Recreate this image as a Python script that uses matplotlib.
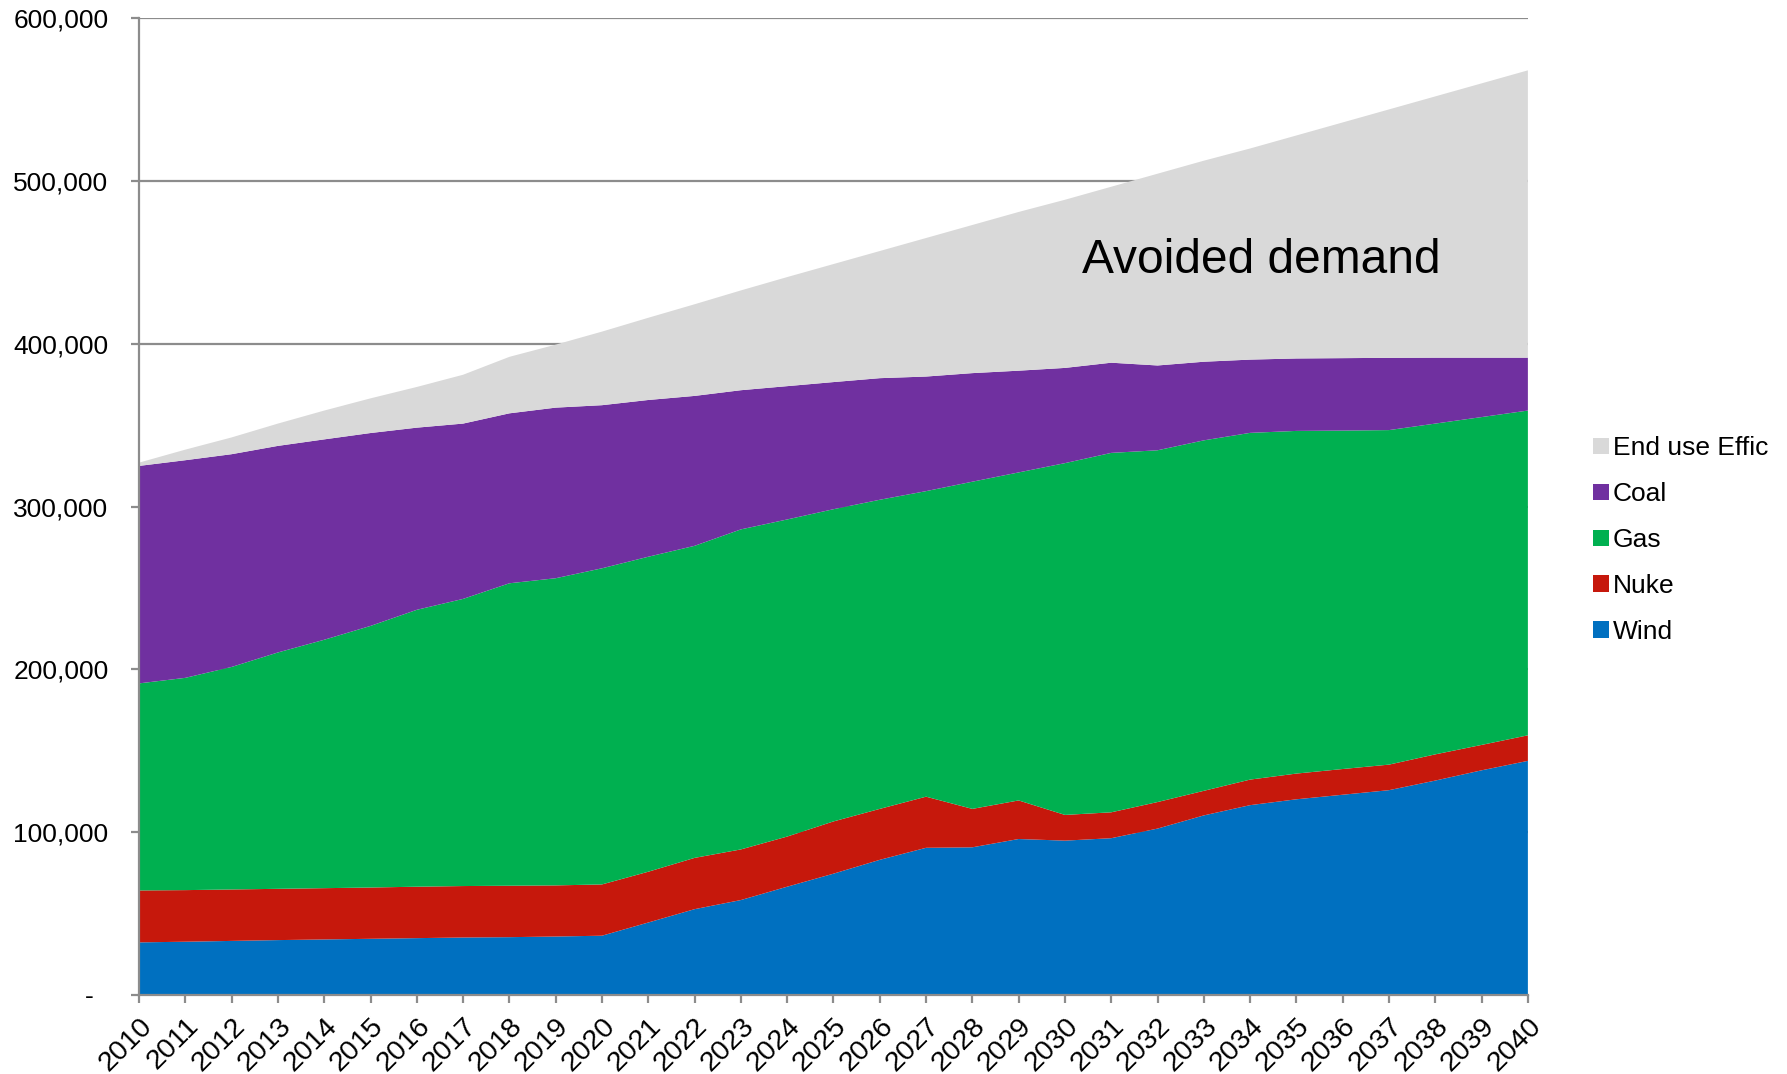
import matplotlib
matplotlib.use("Agg")
import matplotlib.pyplot as plt
from matplotlib.patches import Patch
from matplotlib.ticker import FuncFormatter
import numpy as np

years = list(range(2010, 2041))

wind = [32300, 32700, 33200, 33700, 34100, 34500, 34900, 35300, 35500, 35900,
        36400, 44500, 52700, 58300, 66500, 74500, 83000, 90400, 90700, 95800,
        94800, 96300, 102200, 110300, 116600, 120200, 123000, 125800, 131700, 138000,
        143800]
nuke = [31900, 31700, 31600, 31500, 31500, 31500, 31600, 31600, 31600, 31400,
        31500, 31200, 31500, 31100, 30800, 32100, 31300, 31400, 23600, 23700,
        15800, 15900, 16300, 15100, 15700, 15800, 15800, 15700, 16100, 15600,
        15700]
gas = [127200, 130400, 136700, 145200, 152600, 160700, 170100, 176400, 185800, 188700,
       194200, 193500, 191700, 196600, 194800, 191800, 189900, 187700, 201000, 201500,
       216100, 220800, 216100, 215300, 213000, 210500, 207900, 205500, 203200, 201400,
       199500]
coal = [133600, 133700, 130700, 126900, 123100, 118500, 111900, 107700, 104400, 104800,
        100200, 96300, 92100, 85500, 81900, 78100, 74700, 70400, 66700, 62500,
        58500, 55400, 52100, 48300, 45000, 44500, 44500, 44400, 40500, 36500,
        32500]
effic = [2000, 6500, 10300, 13700, 17700, 21300, 25000, 30000, 34700, 38700,
         45200, 50500, 56300, 61300, 67000, 72500, 78100, 85100, 91000, 97500,
         103300, 108100, 117800, 123500, 129700, 137000, 144800, 152600, 160500, 168500,
         176500]

labels = ["Wind", "Nuke", "Gas", "Coal", "End use Effic"]
colors = ["#0070C0", "#C6180C", "#00B050", "#7030A0", "#D9D9D9"]
y_ticks = [0, 100000, 200000, 300000, 400000, 500000, 600000]

plt.rcParams['font.family'] = ['Liberation Sans', 'DejaVu Sans']

fig = plt.figure(figsize=(17.87, 10.74), dpi=100)
ax = fig.add_axes([0.0778, 0.0736, 0.8550 - 0.0778, 0.983 - 0.0736])

ax.stackplot(years, wind, nuke, gas, coal, effic, colors=colors, linewidth=0, zorder=2)

ax.set_xlim(2010, 2040)
ax.set_ylim(0, 600000)
ax.set_yticks(y_ticks)
ax.yaxis.set_major_formatter(FuncFormatter(lambda v, p: "-  " if v == 0 else f"{int(v):,}"))
ax.set_xticks(years)
ax.set_xticklabels([str(y) for y in years], rotation=45, ha='right', rotation_mode='anchor')

ax.grid(axis='y', color='#8C8C8C', linewidth=1.6, zorder=1)
ax.set_axisbelow(True)
for s in ['top', 'right']:
    ax.spines[s].set_visible(False)
for s in ['left', 'bottom']:
    ax.spines[s].set_color('#8C8C8C')
    ax.spines[s].set_linewidth(1.6)
    ax.spines[s].set_zorder(3)

ax.tick_params(axis='both', colors='#8C8C8C', length=6, width=1.6, labelcolor='black')
ax.tick_params(axis='y', labelsize=19, pad=16)
ax.tick_params(axis='x', labelsize=20.5, pad=7)

ax.text(2034.25, 451000, "Avoided demand", fontsize=34.5, ha='center', va='center', zorder=5)

handles = [Patch(facecolor=c, edgecolor='none') for c in colors][::-1]
fig.legend(handles, labels[::-1], loc='center left', bbox_to_anchor=(0.8855, 0.497),
           frameon=False, fontsize=19, handlelength=0.6, handleheight=0.6,
           handletextpad=0.15, labelspacing=0.83, borderaxespad=0)

fig.savefig("out.png", dpi=100)
